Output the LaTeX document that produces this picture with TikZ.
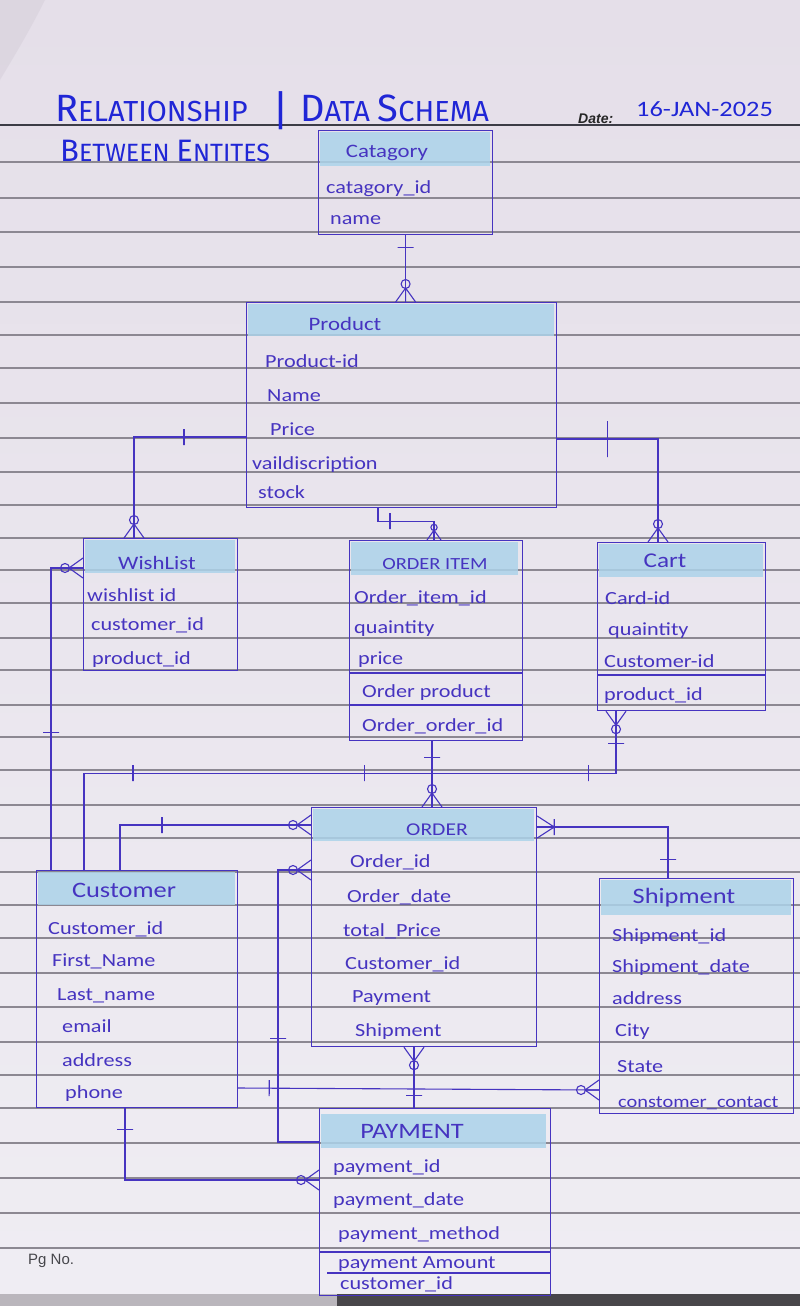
\documentclass[tikz,border=0pt]{standalone}
\usepackage{fontspec}
\setmainfont{Carlito}
\newfontfamily\hand[FakeStretch=1.2]{Carlito}
\newfontfamily\titlef{Fira Sans}
\newfontfamily\printf{Liberation Sans}
\newcommand\myfs[1]{\fontsize{#1}{#1}\selectfont}
\definecolor{paper}{RGB}{239,237,243}
\definecolor{papertop}{RGB}{229,223,233}
\definecolor{shadowc}{RGB}{205,198,210}
\definecolor{rulec}{RGB}{140,136,146}
\definecolor{headrule}{RGB}{60,60,70}
\definecolor{ink}{RGB}{70,52,192}
\definecolor{titleblue}{RGB}{32,38,214}
\definecolor{hdr}{RGB}{172,211,234}
\definecolor{desk}{RGB}{72,70,74}
\definecolor{desklight}{RGB}{186,182,188}
\definecolor{printgray}{RGB}{70,70,75}
\begin{document}
\begin{tikzpicture}[x=1pt,y=-1pt,
  entity/.style={draw=ink, line width=1.2pt, rectangle, inner sep=0pt, anchor=north west},
  hdrfill/.style={fill=hdr, fill opacity=0.85},
  attr/.style={anchor=base west, text=ink, font=\hand\myfs{18.5}, inner sep=0pt},
  etitle/.style={anchor=base, text=ink, font=\hand\myfs{19}, inner sep=0pt},
  conn/.style={draw=ink, line width=1.1pt},
  tickm/.style={draw=ink, line width=1.1pt, sloped, rectangle, minimum width=0pt, minimum height=16pt, inner sep=0pt},
  innerline/.style={draw=ink, line width=1.1pt},
  crowO/.pic={\draw[draw=ink,line width=1.1pt] (0,-10) -- (14,0) -- (0,10) (0,0) -- (14,0);
              \draw[draw=ink,line width=1.1pt] (18,0) circle[radius=4.5];},
  crowI/.pic={\draw[draw=ink,line width=1.1pt] (0,-11) -- (17,0) -- (0,11) (0,0) -- (17,0) (17,-8) -- (17,8);}
]
\useasboundingbox (0,0) rectangle (800,1306);
% paper
\shade[top color=papertop, bottom color=paper] (0,0) rectangle (800,1295);
\fill[shadowc, opacity=0.35] (0,0) -- (45,0) .. controls (30,30) and (15,55) .. (0,80) -- cycle;
\fill[desklight] (0,1294) rectangle (337,1306);
\fill[desk] (337,1294) rectangle (800,1306);
% ruled lines
\foreach \yy in {162,198,232,267,302,335,368,403,438,472,505,538,570,603,638,670,705,737,770,805,838,872,905,938,973,1007,1042,1075,1108,1143,1178,1213,1248}
  \draw[rulec, line width=1.1pt] (0,\yy) -- (800,\yy);
\draw[headrule, line width=2.4pt] (0,125) -- (800,125);

% headings
\node[anchor=base west, text=titleblue, font=\titlef, inner sep=0pt] (t1) at (55,121)
  {{\myfs{38}R}{\myfs{29}ELATIONSHIP}};
\node[anchor=base, text=titleblue, font=\titlef\myfs{42}, inner sep=0pt] (t2) at (281,125) {|};
\node[anchor=base west, text=titleblue, font=\titlef, inner sep=0pt] (t3) at (300,121)
  {{\myfs{38}D}{\myfs{29}ATA }{\myfs{38}S}{\myfs{29}CHEMA}};
\node[anchor=base west, text=titleblue, font=\titlef, inner sep=0pt] (t4) at (60,161)
  {{\myfs{31}B}{\myfs{25}ETWEEN }{\myfs{31}E}{\myfs{25}NTITES}};
\node[anchor=base west, text=black!85, font=\printf\bfseries\itshape\myfs{14}, inner sep=0pt] (dt) at (578,123) {Date:};
\node[anchor=base west, text=titleblue, font=\hand\myfs{22}, inner sep=0pt] (dv) at (636,116) {16-JAN-2025};
\node[anchor=base west, text=printgray, font=\printf\myfs{15}, inner sep=0pt] (pg) at (28,1264) {Pg No.};

% header shading
\fill[hdrfill] (320,132) rectangle (490,166);
\fill[hdrfill] (248,304) rectangle (554,336);
\fill[hdrfill] (85,540) rectangle (235,573);
\fill[hdrfill] (351,542) rectangle (518,575);
\fill[hdrfill] (599,544) rectangle (763,577);
\fill[hdrfill] (313,809) rectangle (534,841);
\fill[hdrfill] (601,880) rectangle (791,915);
\fill[hdrfill] (38,872) rectangle (235,905);
\fill[hdrfill] (321,1114) rectangle (546,1148);

% entities
\node[entity, minimum width=174pt, minimum height=104pt] (cat) at (318,130) {};
\node[entity, minimum width=310pt, minimum height=205pt] (prod) at (246,302) {};
\node[entity, minimum width=154pt, minimum height=132pt] (wish) at (83,538) {};
\node[entity, minimum width=173pt, minimum height=200pt] (oitem) at (349,540) {};
\node[entity, minimum width=168pt, minimum height=168pt] (cart) at (597,542) {};
\node[entity, minimum width=225pt, minimum height=239pt] (order) at (311,807) {};
\node[entity, minimum width=194pt, minimum height=235pt] (ship) at (599,878) {};
\node[entity, minimum width=201pt, minimum height=237pt] (cust) at (36,870) {};
\node[entity, minimum width=231pt, minimum height=187pt] (pay) at (319,1108) {};

% inner row lines
\draw[innerline] (349,673) -- (522,673);
\draw[innerline] (349,705) -- (522,705);
\draw[innerline] (597,675) -- (765,675);
\draw[innerline] (319,1252) -- (550,1252);
\draw[innerline] (327,1273) -- (550,1273);

% texts: Category
\node[etitle] (cat-t) at (387,157) {Catagory};
\node[attr] (cat-1) at (326,193) {catagory\_id};
\node[attr] (cat-2) at (330,224) {name};
% Product
\node[etitle] (prod-t) at (345,330) {Product};
\node[attr] (prod-1) at (265,367) {Product-id};
\node[attr] (prod-2) at (267,401) {Name};
\node[attr] (prod-3) at (270,435) {Price};
\node[attr] (prod-4) at (252,469) {vaildiscription};
\node[attr] (prod-5) at (258,498) {stock};
% Wishlist
\node[etitle] (wish-t) at (157,569) {WishList};
\node[attr] (wish-1) at (87,601) {wishlist id};
\node[attr] (wish-2) at (91,630) {customer\_id};
\node[attr] (wish-3) at (92,664) {product\_id};
% Order item
\node[etitle, font=\hand\myfs{17}] (oi-t) at (435,569) {ORDER ITEM};
\node[attr] (oi-1) at (354,603) {Order\_item\_id};
\node[attr] (oi-2) at (354,633) {quaintity};
\node[attr] (oi-3) at (358,664) {price};
\node[attr] (oi-4) at (362,697) {Order product};
\node[attr] (oi-5) at (362,731) {Order\_order\_id};
% Cart
\node[etitle, font=\hand\myfs{21}] (cart-t) at (665,567) {Cart};
\node[attr] (cart-1) at (605,604) {Card-id};
\node[attr] (cart-2) at (608,635) {quaintity};
\node[attr] (cart-3) at (604,667) {Customer-id};
\node[attr] (cart-4) at (604,700) {product\_id};
% Order
\node[etitle, font=\hand\myfs{18}] (ord-t) at (437,835) {ORDER};
\node[attr] (ord-1) at (350,867) {Order\_id};
\node[attr] (ord-2) at (347,902) {Order\_date};
\node[attr] (ord-3) at (343,936) {total\_Price};
\node[attr] (ord-4) at (345,969) {Customer\_id};
\node[attr] (ord-5) at (352,1002) {Payment};
\node[attr] (ord-6) at (355,1036) {Shipment};
% Shipment
\node[etitle, font=\hand\myfs{22}] (sh-t) at (684,903) {Shipment};
\node[attr] (sh-1) at (612,941) {Shipment\_id};
\node[attr] (sh-2) at (612,972) {Shipment\_date};
\node[attr] (sh-3) at (612,1004) {address};
\node[attr] (sh-4) at (615,1036) {City};
\node[attr] (sh-5) at (617,1072) {State};
\node[attr, font=\hand\myfs{17}] (sh-6) at (618,1107) {constomer\_contact};
% Customer
\node[etitle, font=\hand\myfs{22}] (cu-t) at (124,897) {Customer};
\node[attr] (cu-1) at (48,934) {Customer\_id};
\node[attr] (cu-2) at (52,966) {First\_Name};
\node[attr] (cu-3) at (57,1000) {Last\_name};
\node[attr] (cu-4) at (62,1032) {email};
\node[attr] (cu-5) at (62,1066) {address};
\node[attr] (cu-6) at (65,1098) {phone};
% Payment
\node[etitle, font=\hand\myfs{22}] (pa-t) at (412,1138) {PAYMENT};
\node[attr] (pa-1) at (333,1172) {payment\_id};
\node[attr] (pa-2) at (333,1205) {payment\_date};
\node[attr] (pa-3) at (338,1239) {payment\_method};
\node[attr] (pa-4) at (338,1268) {payment Amount};
\node[attr] (pa-5) at (340,1289) {customer\_id};

% anchor coordinates
\coordinate (oi-b) at ([xshift=83pt]oitem.south west);
\coordinate (o-b) at ([xshift=103pt]order.south west);

% connectors
% Category - Product
\draw[conn] (cat.south) -- node[tickm, pos=0.19]{} (cat.south |- prod.north);
\pic[rotate=90] at (cat.south |- prod.north) {crowO};
% Product - Wishlist
\draw[conn] ([yshift=-135pt]prod.north west) -| node[tickm, pos=0.277]{} ([xshift=51pt]wish.north west);
\pic[rotate=90] at ([xshift=51pt]wish.north west) {crowO};
% Product - Cart
\draw[conn] ([yshift=-137pt]prod.north east) -| node[tickm, pos=0.25, minimum height=36pt]{} ([xshift=61pt]cart.north west);
\pic[rotate=90] at ([xshift=61pt]cart.north west) {crowO};
% Product - Order item
\draw[conn] ([xshift=132pt]prod.south west) -- ++(0,13) -| node[tickm, pos=0.107]{} ([xshift=85pt]oitem.north west);
\pic[rotate=90, scale=0.7] at ([xshift=85pt]oitem.north west) {crowO};
% Wishlist - Customer
\draw[conn] ([yshift=-30pt]wish.north west) -| node[tickm, pos=0.773]{} ([xshift=15pt]cust.north west);
\pic[rotate=180] at ([yshift=-30pt]wish.north west) {crowO};
% Cart - Customer
\draw[conn] ([xshift=19pt]cart.south west) -- node[tickm, pos=0.52]{} ++(0,62)
   -| node[tickm, pos=0.026]{} node[tickm, pos=0.236]{} node[tickm, pos=0.454]{} ([xshift=48pt]cust.north west);
\pic[rotate=-90] at ([xshift=19pt]cart.south west) {crowO};
% Order item - Order
\draw[conn] (oi-b) -- node[tickm, pos=0.25]{} (oi-b |- order.north);
\pic[rotate=90] at (oi-b |- order.north) {crowO};
% Customer - Order
\draw[conn] ([xshift=84pt]cust.north west) |- node[tickm, pos=0.61]{} ([yshift=-18pt]order.north west);
\pic[rotate=180] at ([yshift=-18pt]order.north west) {crowO};
% Order - Payment (left)
\draw[conn] ([yshift=-63pt]order.north west) -- ++(-33,0) |- node[tickm, pos=0.309]{} ([yshift=-34pt]pay.north west);
\pic[rotate=180] at ([yshift=-63pt]order.north west) {crowO};
% Order - Shipment
\draw[conn] ([yshift=-20pt]order.north east) -| node[tickm, pos=0.82]{} ([xshift=69pt]ship.north west);
\pic at ([yshift=-20pt]order.north east) {crowI};
% Order - Payment
\draw[conn] (o-b) -- node[tickm, pos=0.79]{} (o-b |- pay.north);
\pic[rotate=-90] at (o-b) {crowO};
% Customer - Shipment
\draw[conn] ([yshift=-218pt]cust.north east) -- node[tickm, pos=0.086]{} ([yshift=-212pt]ship.north west);
\pic[rotate=180] at ([yshift=-212pt]ship.north west) {crowO};
% Customer - Payment
\draw[conn] ([xshift=89pt]cust.south west) |- node[tickm, pos=0.15]{} ([yshift=-72pt]pay.north west);
\pic[rotate=180] at ([yshift=-72pt]pay.north west) {crowO};
\end{tikzpicture}
\end{document}
